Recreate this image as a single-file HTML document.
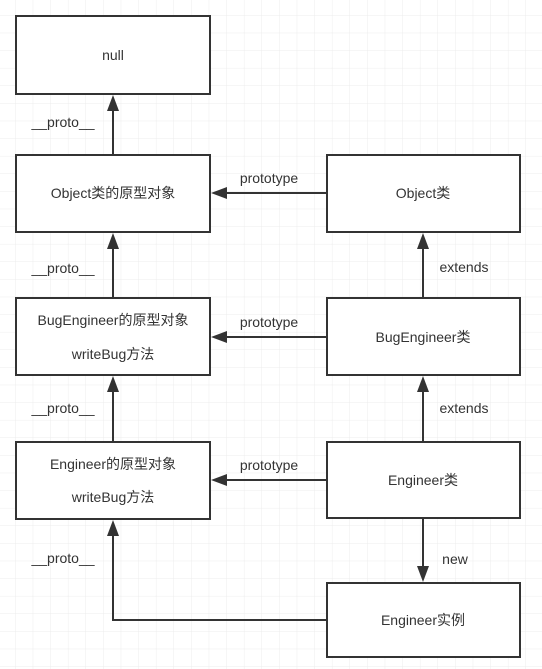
<!DOCTYPE html>
<html><head><meta charset="utf-8"><style>
html,body{margin:0;padding:0;background:#fff}
svg{display:block}
text{font-family:"Liberation Sans","Noto Sans CJK SC",sans-serif;font-size:14px;fill:#333}
</style></head><body>
<svg width="542" height="669" viewBox="0 0 542 669" xmlns="http://www.w3.org/2000/svg">
<defs>
<pattern id="g" width="17.6" height="17.6" patternUnits="userSpaceOnUse" x="-2" y="-2">
<path d="M17.6 0V17.6M0 17.6H17.6" stroke="#ececec" stroke-width="1" fill="none"/>
</pattern>
</defs>
<rect width="542" height="669" fill="url(#g)"/>
<g fill="#fff" stroke="#333" stroke-width="2">
<rect x="16" y="16" width="194" height="78"/>
<rect x="16" y="155" width="194" height="77"/>
<rect x="16" y="298" width="194" height="77"/>
<rect x="16" y="442" width="194" height="77"/>
<rect x="327" y="155" width="193" height="77"/>
<rect x="327" y="298" width="193" height="77"/>
<rect x="327" y="442" width="193" height="76"/>
<rect x="327" y="583" width="193" height="74"/>
</g>
<g stroke="#333" stroke-width="2" fill="none">
<path d="M113 155V108"/>
<path d="M113 298V247"/>
<path d="M113 442V390"/>
<path d="M327 620H113V533"/>
<path d="M327 193H226"/>
<path d="M327 337H226"/>
<path d="M327 480H226"/>
<path d="M423 298V247"/>
<path d="M423 442V390"/>
<path d="M423 518V568"/>
</g>
<g fill="#333">
<path d="M113 95l-6 16h12z"/>
<path d="M113 233l-6 16h12z"/>
<path d="M113 376l-6 16h12z"/>
<path d="M113 520l-6 16h12z"/>
<path d="M211 193l16-6v12z"/>
<path d="M211 337l16-6v12z"/>
<path d="M211 480l16-6v12z"/>
<path d="M423 233l-6 16h12z"/>
<path d="M423 376l-6 16h12z"/>
<path d="M423 582l-6-16h12z"/>
</g>
<g text-anchor="middle">
<text x="113" y="60">null</text>
<text x="113" y="198">Object类的原型对象</text>
<text x="113" y="325">BugEngineer的原型对象</text>
<text x="113" y="359">writeBug方法</text>
<text x="113" y="469">Engineer的原型对象</text>
<text x="113" y="502">writeBug方法</text>
<text x="423" y="198">Object类</text>
<text x="423" y="342">BugEngineer类</text>
<text x="423" y="485">Engineer类</text>
<text x="423" y="625">Engineer实例</text>
<text x="63" y="127">__proto__</text>
<text x="63" y="273">__proto__</text>
<text x="63" y="413">__proto__</text>
<text x="63" y="563">__proto__</text>
<text x="269" y="183">prototype</text>
<text x="269" y="327">prototype</text>
<text x="269" y="470">prototype</text>
<text x="464" y="272">extends</text>
<text x="464" y="413">extends</text>
<text x="455" y="564">new</text>
</g>
</svg>
</body></html>
